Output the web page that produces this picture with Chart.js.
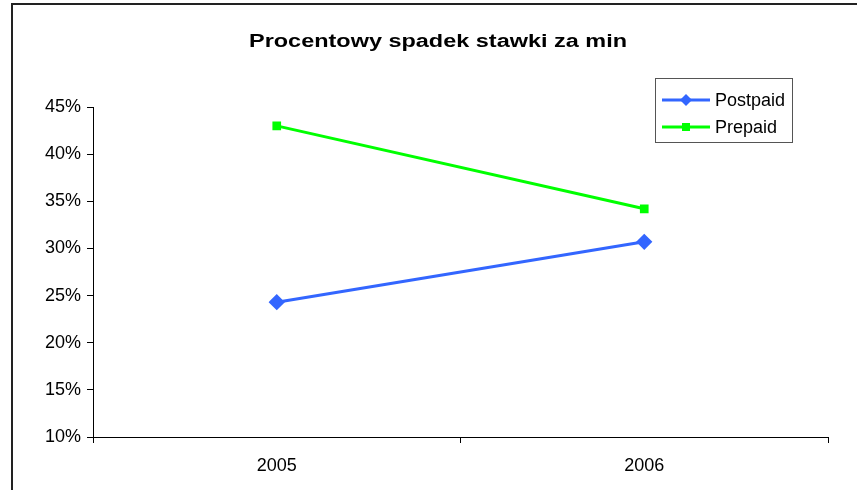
<!DOCTYPE html>
<html>
<head>
<meta charset="utf-8">
<script src="https://cdn.jsdelivr.net/npm/chart.js@4/dist/chart.umd.min.js"></script>
<style>
  html, body { margin: 0; padding: 0; background: #fff; }
  #wrap { position: relative; width: 857px; height: 490px; overflow: hidden; }
  #frame { position: absolute; left: 11px; top: 3px; width: 900px; height: 600px;
           border-left: 2px solid #222; border-top: 2px solid #222; pointer-events: none; }
  canvas { position: absolute; left: 0; top: 0; }
</style>
</head>
<body>
<div id="wrap">
  <canvas id="chart" width="857" height="490"></canvas>
  <div id="frame"></div>
</div>
<script>
// dane wykresu
const tytul = 'Procentowy spadek stawki za min';
const lata = ['2005', '2006'];
const postpaid = [24.3, 30.7];
const prepaid = [43.0, 34.2];
const yTicks = [10, 15, 20, 25, 30, 35, 40, 45];

const FONT = 'Liberation Sans, Arial, sans-serif';

// tytul rozciagniety poziomo jak w oryginale
const stretchedTitle = {
    id: 'stretchedTitle',
    afterDraw(chart) {
        const ctx = chart.ctx;
        ctx.save();
        ctx.font = 'bold 18px ' + FONT;
        ctx.fillStyle = '#000';
        ctx.textBaseline = 'middle';
        ctx.textAlign = 'center';
        const w = ctx.measureText(tytul).width;
        const sx = 378 / w;
        ctx.translate(438, 42);
        ctx.scale(sx, 1);
        ctx.fillText(tytul, 0, 0);
        ctx.restore();
    }
};

// legenda w ramce, jak w Excelu
const boxLegend = {
    id: 'boxLegend',
    afterDraw(chart) {
        const ctx = chart.ctx;
        const x = 655, y = 78, w = 137, h = 64;
        ctx.save();
        ctx.strokeStyle = '#555';
        ctx.lineWidth = 1;
        ctx.strokeRect(x + 0.5, y + 0.5, w, h);
        chart.data.datasets.forEach((ds, i) => {
            const cy = y + 22 + i * 27;
            ctx.strokeStyle = ds.borderColor;
            ctx.lineWidth = 3;
            ctx.beginPath();
            ctx.moveTo(x + 7, cy);
            ctx.lineTo(x + 55, cy);
            ctx.stroke();
            ctx.fillStyle = ds.pointBackgroundColor;
            ctx.beginPath();
            if (ds.pointStyle === 'rectRot') {
                const r = 6;
                ctx.moveTo(x + 31, cy - r);
                ctx.lineTo(x + 31 + r, cy);
                ctx.lineTo(x + 31, cy + r);
                ctx.lineTo(x + 31 - r, cy);
                ctx.closePath();
            } else {
                ctx.rect(x + 31 - 4, cy - 4, 8, 8);
            }
            ctx.fill();
            ctx.fillStyle = '#000';
            ctx.font = '18px ' + FONT;
            ctx.textBaseline = 'middle';
            ctx.fillText(ds.label, x + 60, cy + 1);
        });
        ctx.restore();
    }
};

new Chart(document.getElementById('chart'), {
    type: 'line',
    data: {
        labels: lata,
        datasets: [{
            label: 'Postpaid',
            data: postpaid,
            borderColor: '#3366ff',
            backgroundColor: '#3366ff',
            pointBackgroundColor: '#3366ff',
            pointBorderColor: '#3366ff',
            pointStyle: 'rectRot',
            pointRadius: 6,
            borderWidth: 3,
            tension: 0
        }, {
            label: 'Prepaid',
            data: prepaid,
            borderColor: '#00ff00',
            backgroundColor: '#00ff00',
            pointBackgroundColor: '#00ff00',
            pointBorderColor: '#00ff00',
            pointStyle: 'rect',
            pointRadius: 4,
            borderWidth: 3,
            tension: 0
        }]
    },
    options: {
        responsive: false,
        animation: false,
        layout: { padding: { left: 13, right: 29, top: 107, bottom: 0 } },
        plugins: {
            legend: { display: false },
            tooltip: { enabled: false },
            title: { display: false }
        },
        scales: {
            x: {
                offset: true,
                grid: { display: true, offset: true, drawOnChartArea: false, drawTicks: true, tickLength: 6, color: '#000' },
                border: { display: true, color: '#000', width: 1 },
                ticks: { color: '#000', font: { family: FONT, size: 18 }, padding: 12 },
                afterFit: s => { s.height = 53; }
            },
            y: {
                min: 10,
                max: 45,
                afterBuildTicks: s => { s.ticks = yTicks.map(v => ({ value: v })); },
                grid: { display: true, drawOnChartArea: false, drawTicks: true, tickLength: 6, color: '#000' },
                border: { display: true, color: '#000', width: 1 },
                ticks: { color: '#000', font: { family: FONT, size: 18 }, padding: 6, callback: v => v + '%' },
                afterFit: s => { s.width = 80; }
            }
        }
    },
    plugins: [stretchedTitle, boxLegend]
});
</script>
</body>
</html>
